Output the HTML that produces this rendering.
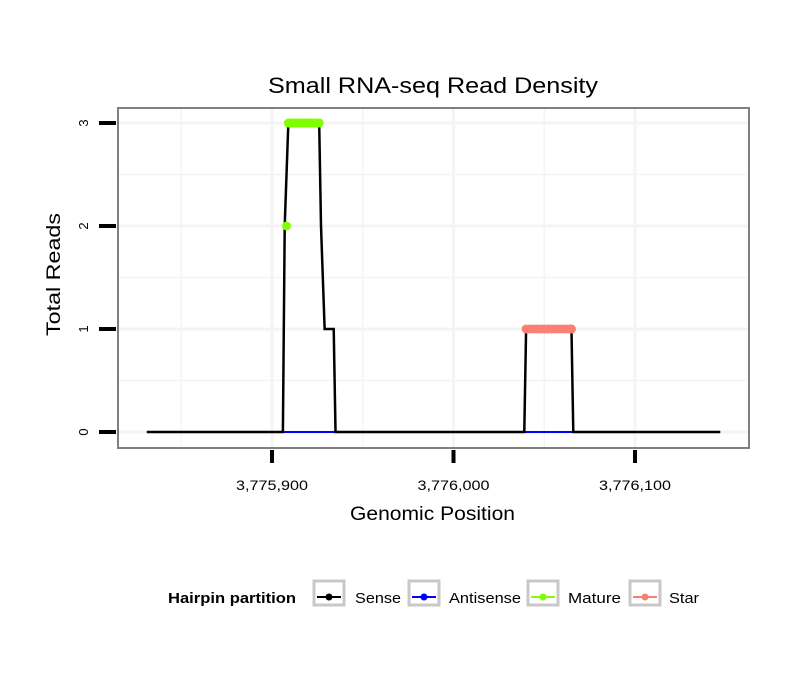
<!DOCTYPE html>
<html><head><meta charset="utf-8"><style>
body{margin:0;background:#fff;}
svg text{font-family:"Liberation Sans",sans-serif;}
</style></head><body>
<svg id="chart" width="810" height="690" xmlns="http://www.w3.org/2000/svg">
<rect width="810" height="690" fill="#fff"/>
<text x="268" y="93" font-size="22" textLength="330" lengthAdjust="spacingAndGlyphs">Small RNA-seq Read Density</text>
<g id="grid"></g>
<g id="series"></g>
<rect x="118" y="108" width="631" height="340" fill="none" stroke="#7f7f7f" stroke-width="2"/>
<g id="axes"></g>
<text x="350" y="520" font-size="19" textLength="165" lengthAdjust="spacingAndGlyphs">Genomic Position</text>
<text transform="translate(60,336) rotate(-90)" font-size="19" textLength="123" lengthAdjust="spacingAndGlyphs">Total Reads</text>
<g>
<text x="168" y="603" font-size="15" font-weight="bold" textLength="128" lengthAdjust="spacingAndGlyphs">Hairpin partition</text>
<g><rect x="314" y="581" width="30" height="24" fill="#fff" stroke="#c8c8c8" stroke-width="3"/><line x1="317" y1="597" x2="341" y2="597" stroke="#000" stroke-width="2"/><circle cx="329" cy="597" r="3.5" fill="#000"/><text x="355" y="603" font-size="15" textLength="46" lengthAdjust="spacingAndGlyphs">Sense</text></g>
<g><rect x="409" y="581" width="30" height="24" fill="#fff" stroke="#c8c8c8" stroke-width="3"/><line x1="412" y1="597" x2="436" y2="597" stroke="#00f" stroke-width="2"/><circle cx="424" cy="597" r="3.5" fill="#00f"/><text x="449" y="603" font-size="15" textLength="72" lengthAdjust="spacingAndGlyphs">Antisense</text></g>
<g><rect x="528" y="581" width="30" height="24" fill="#fff" stroke="#c8c8c8" stroke-width="3"/><line x1="531" y1="597" x2="555" y2="597" stroke="#7fff00" stroke-width="2"/><circle cx="543" cy="597" r="3.5" fill="#7fff00"/><text x="568" y="603" font-size="15" textLength="53" lengthAdjust="spacingAndGlyphs">Mature</text></g>
<g><rect x="630" y="581" width="30" height="24" fill="#fff" stroke="#c8c8c8" stroke-width="3"/><line x1="633" y1="597" x2="657" y2="597" stroke="#fa8072" stroke-width="2"/><circle cx="645" cy="597" r="3.5" fill="#fa8072"/><text x="669" y="603" font-size="15" textLength="30" lengthAdjust="spacingAndGlyphs">Star</text></g>
</g>
</svg>
<script>
const xTicks=[3775900,3776000,3776100];
const xTickLabels=["3,775,900","3,776,000","3,776,100"];
const yTicks=[0,1,2,3];
const sensePos=[3775831,3775906,3775907,3775909,3775926,3775927,3775929,3775934,3775935,3776039,3776040,3776065,3776066,3776147];
const senseVal=[0,0,2,3,3,2,1,1,0,0,1,1,0,0];
const antisenseSegs=[[3775906,3775935],[3776039,3776066]];
const maturePos=[3775908,3775909,3775910,3775911,3775912,3775913,3775914,3775915,3775916,3775917,3775918,3775919,3775920,3775921,3775922,3775923,3775924,3775925,3775926];
const matureVal=[2,3,3,3,3,3,3,3,3,3,3,3,3,3,3,3,3,3,3];
const starPos=[3776040,3776042,3776044,3776046,3776048,3776050,3776052,3776054,3776056,3776058,3776060,3776062,3776064,3776065];
const starVal=[1,1,1,1,1,1,1,1,1,1,1,1,1,1];

const NS="http://www.w3.org/2000/svg";
const X=v=>272+(v-3775900)*1.815;
const Y=v=>432-v*103;
function mk(tag,attrs,parent){const e=document.createElementNS(NS,tag);for(const k in attrs)e.setAttribute(k,attrs[k]);parent.appendChild(e);return e;}
const grid=document.getElementById('grid'),series=document.getElementById('series'),axes=document.getElementById('axes');
[3775850,3775900,3775950,3776000,3776050,3776100].forEach(v=>{const g=mk('line',{x1:X(v),x2:X(v),y1:108,y2:448,stroke:'#f4f4f4','stroke-width':xTicks.includes(v)?3:1.5},grid);

});
[0,0.5,1,1.5,2,2.5,3].forEach(v=>{const g=mk('line',{x1:118,x2:749,y1:Y(v),y2:Y(v),stroke:'#f4f4f4','stroke-width':Number.isInteger(v)?3:1.5},grid);

});
antisenseSegs.forEach(s=>{const l=mk('line',{x1:X(s[0]),x2:X(s[1]),y1:Y(0),y2:Y(0),stroke:'#00f','stroke-width':2},series);

});
const pl=mk('polyline',{points:sensePos.map((p,i)=>X(p)+','+Y(senseVal[i])).join(' '),fill:'none',stroke:'#000','stroke-width':2.5},series);


maturePos.forEach((p,i)=>{const c=mk('circle',{cx:X(p),cy:Y(matureVal[i]),r:4.5,fill:'#7fff00'},series);

});
starPos.forEach((p,i)=>{const c=mk('circle',{cx:X(p),cy:Y(starVal[i]),r:4.5,fill:'#fa8072'},series);

});
xTicks.forEach((v,i)=>{const t=mk('line',{x1:X(v),x2:X(v),y1:450,y2:463,stroke:'#000','stroke-width':4},axes);


const tx=mk('text',{x:X(v)-36,y:490,'font-size':13.5,textLength:72,lengthAdjust:'spacingAndGlyphs'},axes);tx.textContent=xTickLabels[i];

});
yTicks.forEach(v=>{const t=mk('line',{x1:99,x2:116,y1:Y(v),y2:Y(v),stroke:'#000','stroke-width':4},axes);


const tx=mk('text',{transform:`translate(88,${Y(v)}) rotate(-90)`,'font-size':13,'text-anchor':'middle'},axes);tx.textContent=v;

});
</script>
</body></html>
